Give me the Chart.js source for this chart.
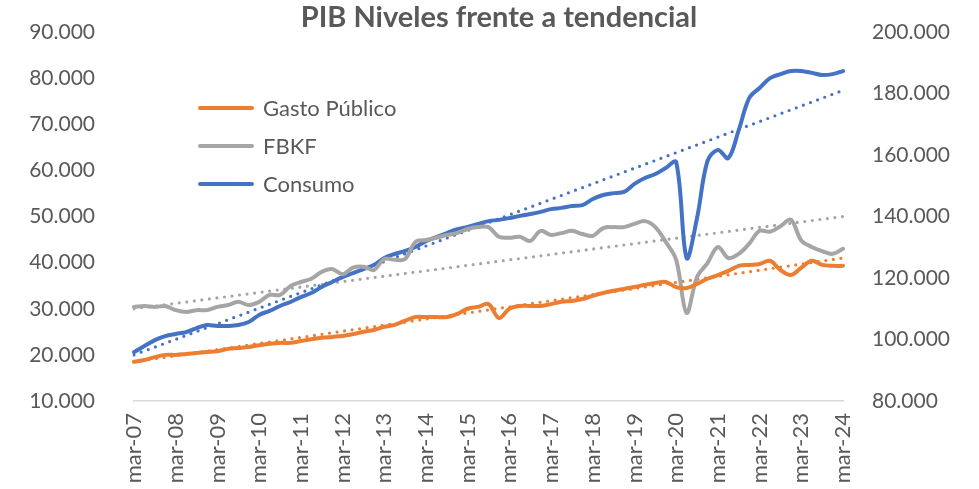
<!DOCTYPE html>
<html>
<head>
<meta charset="utf-8">
<script src="https://cdn.jsdelivr.net/npm/chart.js@4.4.1/dist/chart.umd.min.js"></script>
<style>
  html, body { margin: 0; padding: 0; background: #ffffff; }
  #wrap { width: 979px; height: 489px; }
</style>
</head>
<body>
<div id="wrap"><canvas id="chart" width="979" height="489"></canvas></div>
<script>
// quarterly data, mar-07 .. mar-24
var YEARS = ["07","08","09","10","11","12","13","14","15","16","17","18","19","20","21","22","23","24"];
var QUARTERS = ["mar", "jun", "sep", "dic"];

var gastoPublico = [
    18500, 18900, 19500, 20000, 20000, 20200, 20400, 20600, 20800, 21300,
    21500, 21700, 22100, 22400, 22600, 22600, 23000, 23400, 23700, 23900,
    24100, 24500, 25000, 25400, 26100, 26500, 27400, 28200, 28200, 28200,
    28200, 28900, 30000, 30400, 31000, 28000, 30000, 30600, 30600, 30600,
    31000, 31500, 31700, 32100, 32800, 33400, 33900, 34300, 34700, 35200,
    35600, 35800, 34700, 34500, 35400, 36500, 37300, 38200, 39300, 39500,
    39700, 40400, 38400, 37300, 38900, 40400, 39500, 39300, 39300
];
var fbkf = [
    30400, 30600, 30400, 30600, 29700, 29300, 29700, 29700, 30400, 30800,
    31500, 30800, 31500, 33000, 33000, 34900, 35800, 36500, 38000, 38600,
    37500, 38900, 39100, 38400, 40800, 40600, 40800, 44500, 44900, 45400,
    46000, 46400, 47300, 47700, 47700, 45600, 45400, 45600, 44700, 46900,
    46000, 46400, 46900, 46200, 45800, 47500, 47700, 47700, 48400, 49000,
    47700, 44500, 40600, 29100, 36900, 39900, 43400, 41000, 41900, 44100,
    46900, 46700, 47900, 49300, 44800, 43400, 42500, 41900, 43000
];
// consumo is read on the right axis
var consumo = [
    95900, 97900, 99800, 101100, 101800, 102400, 103700, 104700, 104400, 104400,
    104700, 105700, 108000, 109300, 110900, 112200, 113800, 115100, 117100, 118700,
    120300, 121600, 122900, 124200, 126500, 127800, 128800, 130100, 132000, 133300,
    134600, 135900, 136600, 137600, 138500, 138900, 139500, 140200, 140800, 141500,
    142400, 142800, 143400, 143700, 145700, 147000, 147600, 148000, 150600, 152500,
    153800, 155800, 157700, 126500, 139500, 158000, 161600, 159000, 168100, 178500,
    181800, 185000, 186300, 187300, 187300, 186700, 186000, 186300, 187300
];

// linear trendlines, value at the first (mar-07) and last (mar-24) quarter
var trendGasto = [18500, 41000];
var trendFbkf = [30000, 50000];
var trendConsumo = [95000, 181000];

var ORANGE = "#ED7D31";
var GREY = "#A5A5A5";
var BLUE = "#4472C4";
var TEXT = "#595959";
var FONT = "Lato, 'Open Sans', sans-serif";


function buildLabels() {
    var labels = [];
    for (var y = 0; y < YEARS.length; y++) {
        for (var q = 0; q < 4; q++) {
            if (y == YEARS.length - 1 && q > 0)
                break;
            labels.push(QUARTERS[q] + "-" + YEARS[y]);
        }
    }
    return labels;
}


// a trendline is only given at both ends; the line is drawn straight between them
function trendData(ends, n) {
    var out = [];
    for (var i = 0; i < n; i++)
        out.push(null);
    out[0] = ends[0];
    out[n - 1] = ends[1];
    return out;
}


function formatThousands(v) {
    return (v / 1000).toFixed(3);
}


function solid(label, data, color, axis) {
    return {
        label: label,
        data: data,
        yAxisID: axis,
        borderColor: color,
        backgroundColor: color,
        borderWidth: 4,
        pointRadius: 0,
        tension: 0.35,
        borderCapStyle: "round",
        borderJoinStyle: "round",
        fill: false
    };
}


function dotted(label, data, color, axis) {
    return {
        label: label,
        data: data,
        yAxisID: axis,
        borderColor: color,
        borderWidth: 3.2,
        borderDash: [0, 7.6],
        borderCapStyle: "round",
        pointRadius: 0,
        tension: 0,
        spanGaps: true,
        fill: false
    };
}


// the tick padding would otherwise also push the plot down from the top
function fixWidth(width) {
    return function (scale) {
        scale.width = width;
        scale.paddingTop = 0;
        scale.paddingBottom = 0;
    };
}


// title and in-plot legend
var decorations = {
    id: "decorations",
    afterDraw: function (chart) {
        var ctx = chart.ctx;
        ctx.save();
        ctx.fillStyle = TEXT;
        ctx.textBaseline = "middle";
        ctx.textAlign = "center";
        ctx.font = "bold 29px " + FONT;
        ctx.fillText("PIB Niveles frente a tendencial", 499, 18);

        var items = [["Gasto Público", ORANGE], ["FBKF", GREY], ["Consumo", BLUE]];
        ctx.textAlign = "left";
        ctx.font = "22px " + FONT;
        for (var i = 0; i < items.length; i++) {
            var y = 108 + i * 38;
            ctx.strokeStyle = items[i][1];
            ctx.lineWidth = 4;
            ctx.lineCap = "round";
            ctx.beginPath();
            ctx.moveTo(200, y);
            ctx.lineTo(252, y);
            ctx.stroke();
            ctx.fillText(items[i][0], 263, y + 1);
        }
        ctx.restore();
    }
};


var labels = buildLabels();
var n = labels.length;

new Chart(document.getElementById("chart"), {
    type: "line",
    data: {
        labels: labels,
        datasets: [
            solid("Gasto Público", gastoPublico, ORANGE, "y"),
            solid("FBKF", fbkf, GREY, "y"),
            solid("Consumo", consumo, BLUE, "y1"),
            dotted("Tendencia Gasto Público", trendData(trendGasto, n), ORANGE, "y"),
            dotted("Tendencia FBKF", trendData(trendFbkf, n), GREY, "y"),
            dotted("Tendencia Consumo", trendData(trendConsumo, n), BLUE, "y1")
        ]
    },
    options: {
        responsive: false,
        animation: false,
        devicePixelRatio: 1,
        layout: { padding: { top: 32, left: 0, right: 0, bottom: 0 } },
        plugins: {
            legend: { display: false },
            title: { display: false },
            tooltip: { enabled: false }
        },
        scales: {
            x: {
                grid: { display: false, drawTicks: false },
                border: { display: true, color: "#D9D9D9", width: 1.5 },
                ticks: {
                    autoSkip: false,
                    minRotation: 90,
                    maxRotation: 90,
                    padding: 12,
                    color: TEXT,
                    font: { family: FONT, size: 22 },
                    callback: function (value, index) {
                        return index % 4 == 0 ? labels[index] : "";
                    }
                },
                afterFit: function (scale) { scale.height = 88; }
            },
            y: {
                position: "left",
                min: 10000,
                max: 90000,
                grid: { display: false, drawTicks: false },
                border: { display: false },
                ticks: {
                    stepSize: 10000,
                    padding: 39,
                    color: TEXT,
                    font: { family: FONT, size: 21 },
                    callback: formatThousands
                },
                afterFit: fixWidth(134)
            },
            y1: {
                position: "right",
                min: 80000,
                max: 200000,
                grid: { display: false, drawTicks: false },
                border: { display: false },
                ticks: {
                    stepSize: 20000,
                    padding: 29,
                    color: TEXT,
                    font: { family: FONT, size: 21 },
                    callback: formatThousands
                },
                afterFit: fixWidth(979 - 843)
            }
        }
    },
    plugins: [decorations]
});
</script>
</body>
</html>
